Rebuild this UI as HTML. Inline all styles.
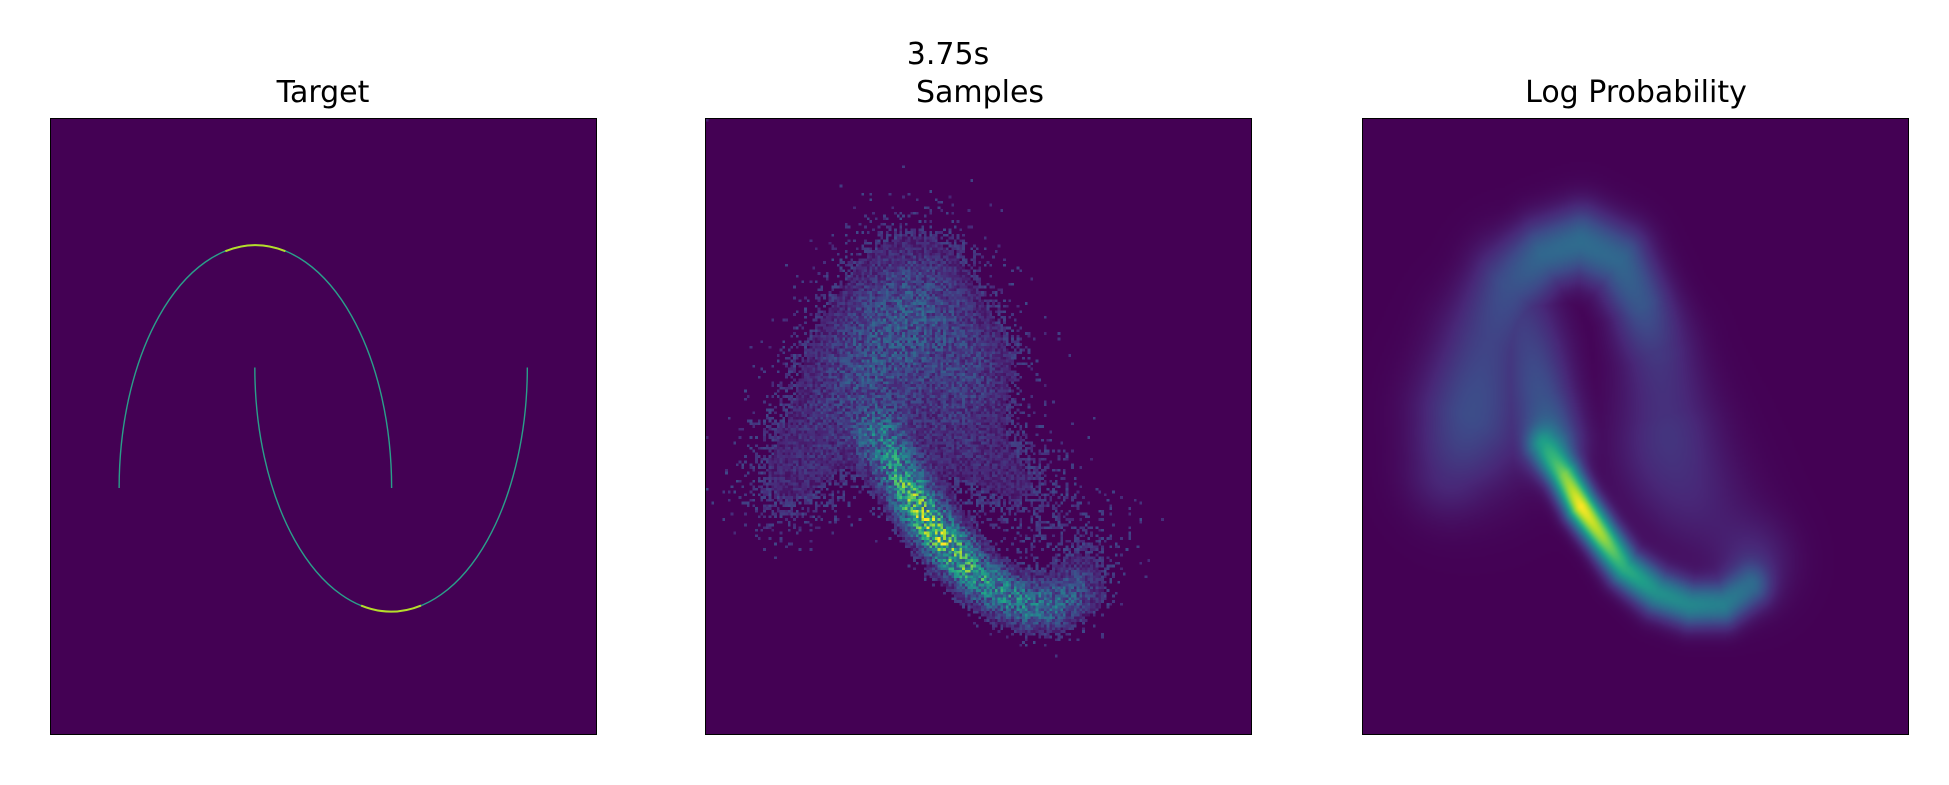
<!DOCTYPE html>
<html><head><meta charset="utf-8"><style>
html,body{margin:0;padding:0;background:#fff;}
body{width:1949px;height:785px;position:relative;overflow:hidden;font-family:"DejaVu Sans","Liberation Sans",sans-serif;}
.t{position:absolute;font-size:30px;color:#000;transform:translateX(-50%);white-space:nowrap;line-height:1;}
.ax{position:absolute;top:118px;width:547px;height:617px;box-sizing:border-box;border:1.5px solid #000;background:#440154;}
canvas,svg{position:absolute;left:0;top:0;width:100%;height:100%;}
</style></head><body>
<div class="t" style="left:948px;top:40px;">3.75s</div>
<div class="t" style="left:323px;top:78px;">Target</div>
<div class="t" style="left:980px;top:78px;">Samples</div>
<div class="t" style="left:1636px;top:78px;">Log Probability</div>

<div class="ax" style="left:50px;">
<svg id="moons" viewBox="0 0 544 614" preserveAspectRatio="none"></svg>
</div>
<div class="ax" style="left:705px;">
<canvas id="samp" width="200" height="225" style="image-rendering:pixelated"></canvas>
</div>
<div class="ax" style="left:1362px;">
<canvas id="lp" width="274" height="308"></canvas>
</div>

<script>
// Moon data (axes fractions)
const moonCx = [0.375, 0.624];
const moonCy = [0.600, 0.404];
const moonRx = [0.250, 0.250];
const moonRy = [0.395, 0.397];
const moonDir = [-1, 1]; // -1 upper half, +1 lower half

// Samples ridge data
const sX = [0.32,0.35,0.38,0.41,0.45,0.49,0.54,0.59,0.64,0.68];
const sY = [0.52,0.57,0.62,0.66,0.70,0.74,0.77,0.79,0.79,0.77];
const sV = [0.30,0.45,0.62,0.70,0.64,0.52,0.42,0.38,0.32,0.22];
const sW = [0.03,0.028,0.026,0.026,0.026,0.026,0.028,0.028,0.028,0.03];
// Samples broad blobs
const sbX = [0.38,0.28,0.18,0.50,0.58,0.46,0.70,0.12];
const sbY = [0.30,0.42,0.55,0.40,0.60,0.52,0.70,0.62];
const sbV = [0.20,0.17,0.09,0.11,0.08,0.10,0.06,0.04];
const sbS = [0.085,0.08,0.07,0.06,0.07,0.07,0.06,0.06];

// Log prob ridge data
const lX = [0.33,0.37,0.40,0.44,0.48,0.54,0.60,0.66,0.71];
const lY = [0.53,0.58,0.63,0.68,0.73,0.77,0.79,0.79,0.76];
const lV = [0.40,0.80,1.00,0.85,0.62,0.50,0.46,0.42,0.30];
const lW = [0.02,0.02,0.02,0.02,0.022,0.025,0.025,0.025,0.025];
const aX = [0.15,0.19,0.23,0.27,0.33,0.40,0.47,0.51,0.54,0.56];
const aY = [0.58,0.47,0.36,0.27,0.22,0.20,0.23,0.30,0.38,0.48];
const aV = [0.08,0.14,0.18,0.25,0.33,0.35,0.33,0.27,0.16,0.09];
const aW = [0.05,0.06,0.06,0.05,0.04,0.04,0.04,0.04,0.05,0.06];
const iX = [0.28,0.31,0.33,0.35];
const iY = [0.30,0.38,0.45,0.52];
const iV = [0.16,0.19,0.22,0.30];
const iW = [0.05,0.045,0.04,0.035];
const bX = [0.22,0.55,0.72,0.62];
const bY = [0.50,0.55,0.72,0.63];
const bV = [0.12,0.08,0.10,0.07];
const bS = [0.08,0.07,0.05,0.07];

const VIR=[[68,1,84],[72,40,120],[62,74,137],[49,104,142],[38,130,142],[31,158,137],[53,183,121],[109,205,89],[180,222,44],[253,231,37]];
function vir(t){t=Math.max(0,Math.min(1,t))*9;const i=Math.min(8,Math.floor(t)),f=t-i,a=VIR[i],b=VIR[i+1];return [a[0]+(b[0]-a[0])*f,a[1]+(b[1]-a[1])*f,a[2]+(b[2]-a[2])*f];}
function segD(px,py,x1,y1,x2,y2){const dx=x2-x1,dy=y2-y1,L=dx*dx+dy*dy;let t=L?((px-x1)*dx+(py-y1)*dy)/L:0;t=Math.max(0,Math.min(1,t));const ex=x1+t*dx-px,ey=y1+t*dy-py;return [Math.sqrt(ex*ex+ey*ey),t];}
function ridge(px,py,X,Y,V,W){let m=0;for(let i=0;i<X.length-1;i++){const [d,t]=segD(px,py,X[i],Y[i],X[i+1],Y[i+1]);const v=V[i]+(V[i+1]-V[i])*t,w=W[i]+(W[i+1]-W[i])*t;const g=v*Math.exp(-d*d/(2*w*w));if(g>m)m=g;}return m;}
function blobs(px,py,X,Y,V,S){let s=0;for(let i=0;i<X.length;i++){const dx=px-X[i],dy=py-Y[i];s+=V[i]*Math.exp(-(dx*dx+dy*dy)/(2*S[i]*S[i]));}return s;}
function soft(a,b){return a+b-a*b;}
function hash(i,j){let h=(i*374761393+j*668265263)|0;h=(h^(h>>>13))*1274126177|0;return ((h^(h>>>16))>>>0)/4294967295;}

// Moons
(function(){
  const svg=document.getElementById('moons'),W=544,H=614,NS='http://www.w3.org/2000/svg';
  for(let k=0;k<moonCx.length;k++){
    const cx=moonCx[k]*W,cy=moonCy[k]*H,rx=moonRx[k]*W,ry=moonRy[k]*H;
    const p=document.createElementNS(NS,'path');
    
    
    const sweep=moonDir[k]<0?1:0;
    p.setAttribute('d',`M${cx-rx},${cy} A${rx},${ry} 0 0 ${sweep} ${cx+rx},${cy}`);
    p.setAttribute('fill','none');p.setAttribute('stroke','#2a9f8a');p.setAttribute('stroke-width','1.4');
    svg.appendChild(p);
    const a=document.createElementNS(NS,'path');
    
    
    const ay=cy+moonDir[k]*ry;
    a.setAttribute('d',`M${cx-rx*0.22},${cy+moonDir[k]*ry*0.975} Q${cx},${ay+moonDir[k]*ry*0.025} ${cx+rx*0.22},${cy+moonDir[k]*ry*0.975}`);
    a.setAttribute('fill','none');a.setAttribute('stroke','#b5de2b');a.setAttribute('stroke-width','2');
    svg.appendChild(a);
  }
})();

// Samples histogram
(function(){
  const c=document.getElementById('samp'),ctx=c.getContext('2d'),W=c.width,H=c.height,img=ctx.createImageData(W,H);
  for(let j=0;j<H;j++)for(let i=0;i<W;i++){
    const px=(i+0.5)/W,py=(j+0.5)/H;
    let d=soft(ridge(px,py,sX,sY,sV,sW),Math.min(0.3,blobs(px,py,sbX,sbY,sbV,sbS)));
    const h=hash(i,j);let v;
    if(d<0.09) v=(h<d*d*90)?0.1+0.12*hash(j,i):0; else v=d*(0.4+1.2*h);
    const col=vir(v),o=(j*W+i)*4;img.data[o]=col[0];img.data[o+1]=col[1];img.data[o+2]=col[2];img.data[o+3]=255;}
  ctx.putImageData(img,0,0);
})();

// Log probability
(function(){
  const c=document.getElementById('lp'),ctx=c.getContext('2d'),W=c.width,H=c.height,img=ctx.createImageData(W,H);
  for(let j=0;j<H;j++)for(let i=0;i<W;i++){
    const px=(i+0.5)/W,py=(j+0.5)/H;
    const r=Math.max(ridge(px,py,aX,aY,aV,aW),ridge(px,py,iX,iY,iV,iW));
    const d=soft(ridge(px,py,lX,lY,lV,lW),soft(r,Math.min(0.15,blobs(px,py,bX,bY,bV,bS))));
    const col=vir(d),o=(j*W+i)*4;img.data[o]=col[0];img.data[o+1]=col[1];img.data[o+2]=col[2];img.data[o+3]=255;}
  ctx.putImageData(img,0,0);
})();
</script>
</body></html>
